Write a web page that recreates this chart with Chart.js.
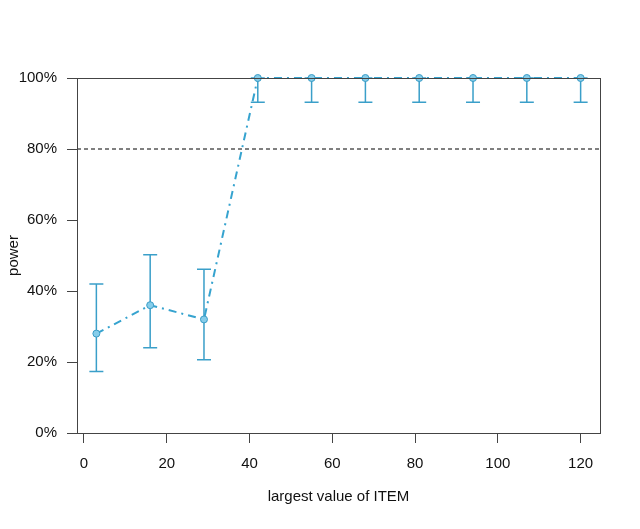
<!DOCTYPE html>
<html>
<head>
<meta charset="utf-8">
<script src="https://cdn.jsdelivr.net/npm/chart.js@4"></script>
<style>
  body { margin: 0; background: #fff; }
  #wrap { width: 640px; height: 529px; }
</style>
</head>
<body>
<div id="wrap"><canvas id="myChart" width="640" height="529"></canvas></div>
<script>
// values
var itemMax = [3, 16, 29, 42, 55, 68, 81, 94, 107, 120];
var power = [28, 36, 32, 100, 100, 100, 100, 100, 100, 100];
var lower = [17.3, 24, 20.6, 93.2, 93.2, 93.2, 93.2, 93.2, 93.2, 93.2];
var upper = [42, 50.2, 46.1, 100, 100, 100, 100, 100, 100, 100];
var xTicks = [0, 20, 40, 60, 80, 100, 120];
var yTicks = [0, 20, 40, 60, 80, 100];
var target = 80;

var blue = '#36a3cf';
var axisColor = '#444';
var textColor = '#111';
var textFont = { family: 'Liberation Sans, Arial, sans-serif', size: 15 };

var points = [];
for (var i = 0; i < itemMax.length; i++) {
    points.push({ x: itemMax[i], y: power[i] });
}

// error bars and box around the plot
var extras = {
    id: 'extras',
    beforeDatasetsDraw: function (chart) {
        var ctx = chart.ctx;
        var xs = chart.scales.x, ys = chart.scales.y;
        ctx.save();
        ctx.strokeStyle = '#3a9fc9';
        ctx.lineWidth = 1.5;
        for (var i = 0; i < itemMax.length; i++) {
            var px = xs.getPixelForValue(itemMax[i]);
            var lo = ys.getPixelForValue(lower[i]);
            var hi = ys.getPixelForValue(upper[i]);
            ctx.beginPath();
            ctx.moveTo(px, lo); ctx.lineTo(px, hi);
            ctx.moveTo(px - 7, lo); ctx.lineTo(px + 7, lo);
            ctx.moveTo(px - 7, hi); ctx.lineTo(px + 7, hi);
            ctx.stroke();
        }
        ctx.restore();
    },
    afterDatasetsDraw: function (chart) {
        var a = chart.chartArea;
        var ctx = chart.ctx;
        ctx.save();
        ctx.strokeStyle = axisColor;
        ctx.lineWidth = 1;
        ctx.strokeRect(Math.round(a.left) + 0.5, Math.round(a.top) + 0.5,
            Math.round(a.right - a.left), Math.round(a.bottom - a.top));
        ctx.restore();
    }
};

var ctx = document.getElementById('myChart').getContext('2d');
var chart = new Chart(ctx, {
    type: 'line',
    data: {
        datasets: [{
            data: points,
            borderColor: blue,
            borderWidth: 2,
            borderDash: [8, 5, 2, 5],
            pointRadius: 3.5,
            pointBackgroundColor: '#86cdea',
            pointBorderColor: '#3a9cc6',
            pointBorderWidth: 1,
            tension: 0,
            clip: false,
            order: 0
        }, {
            // 80% reference line
            data: [{ x: -1.68, y: target }, { x: 124.68, y: target }],
            borderColor: '#000',
            borderWidth: 1,
            borderDash: [4, 3],
            pointRadius: 0,
            order: 1
        }]
    },
    plugins: [extras],
    options: {
        responsive: false,
        animation: false,
        events: [],
        layout: { padding: { top: 78, right: 40, left: 0, bottom: 0 } },
        plugins: { legend: { display: false }, tooltip: { enabled: false } },
        scales: {
            x: {
                type: 'linear',
                min: -1.68,
                max: 124.68,
                afterBuildTicks: function (axis) {
                    axis.ticks = xTicks.map(function (v) { return { value: v }; });
                },
                afterFit: function (axis) { axis.height = 96; },
                grid: { drawOnChartArea: false, tickLength: 10, tickColor: axisColor },
                border: { display: false },
                ticks: { color: textColor, font: textFont, padding: 12, maxRotation: 0 },
                title: {
                    display: true, text: 'largest value of ITEM', color: textColor,
                    font: textFont, padding: { top: 0, bottom: 23 }
                }
            },
            y: {
                min: 0,
                max: 100,
                afterBuildTicks: function (axis) {
                    axis.ticks = yTicks.map(function (v) { return { value: v }; });
                },
                afterFit: function (axis) { axis.width = 77; },
                grid: { drawOnChartArea: false, tickLength: 10, tickColor: axisColor },
                border: { display: false },
                ticks: {
                    color: textColor, font: textFont, padding: 10,
                    callback: function (v) { return v + '%'; }
                },
                title: {
                    display: true, text: 'power', color: textColor,
                    font: textFont, padding: { top: 5, bottom: 0 }
                }
            }
        }
    }
});
</script>
</body>
</html>
